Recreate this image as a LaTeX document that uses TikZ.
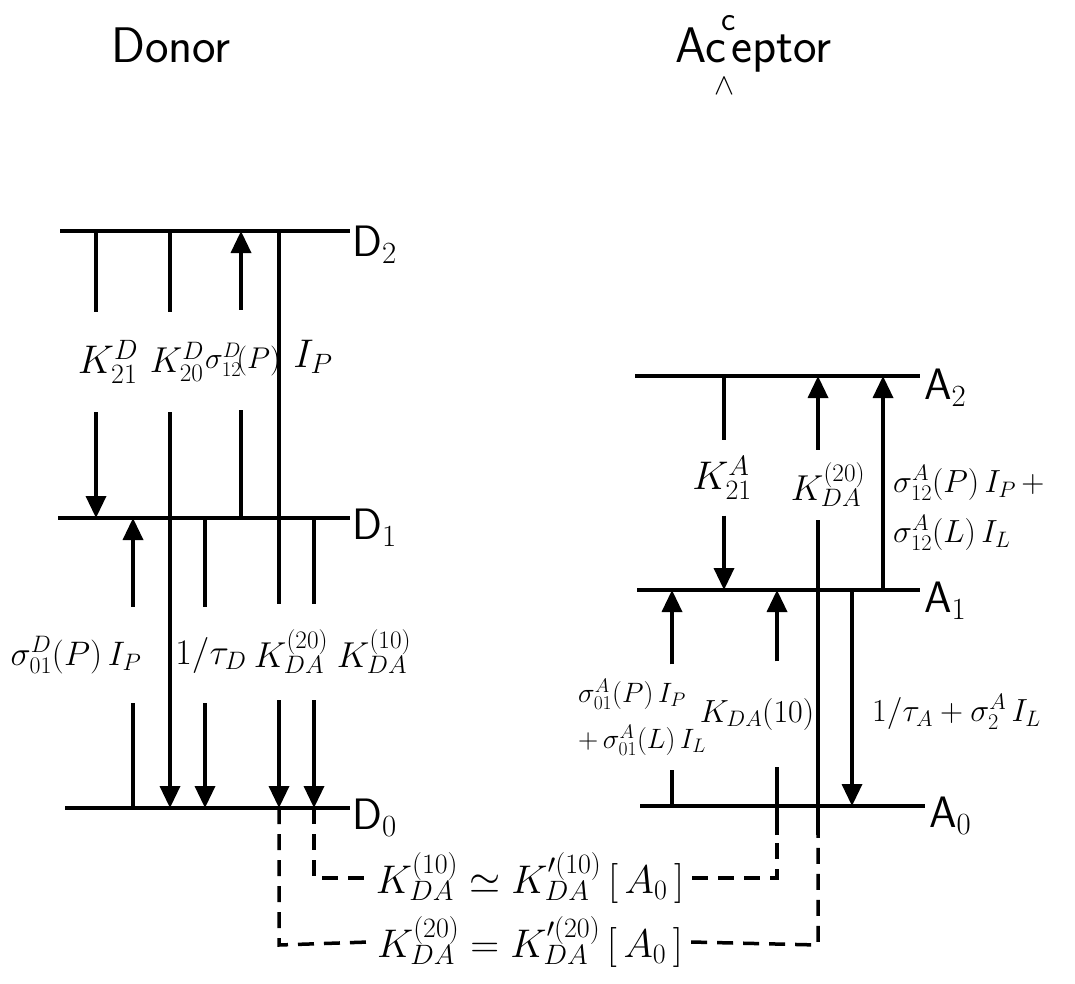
\RequirePackage{fix-cm}
\documentclass[tikz,border=0pt]{standalone}
\usetikzlibrary{arrows.meta}
\begin{document}
\begin{tikzpicture}[x=1pt,y=-1pt,
  lvl/.style={line width=3.5pt},
  tr/.style={line width=3.5pt},
  arr/.style={line width=3.5pt,-{Triangle[width=20pt,length=22pt]}},
  dsh/.style={line width=3.5pt,dash pattern=on 16pt off 10pt},
  lab/.style={font=\fontsize{40}{48}\selectfont,inner sep=0pt},
  lab2/.style={font=\fontsize{32}{50}\selectfont,inner sep=0pt,align=left},
  lvlab/.style={font=\fontsize{44}{50}\selectfont,anchor=west,inner sep=2pt},
  ttl/.style={font=\sffamily\fontsize{50}{60}\selectfont,inner sep=0pt}]
\useasboundingbox (0,0) rectangle (1075,984);

% titles
\node[ttl,anchor=base] (tD) at (171,63) {Donor};
\node[ttl,anchor=base east] (tAc) at (727,63) {Ac};
\node[ttl,anchor=base west] (tAe) at (731,63) {eptor};
\node[font=\sffamily\fontsize{34}{40}\selectfont,inner sep=0pt] (tIns) at (729,23) {c};
\node[font=\fontsize{30}{30}\selectfont,inner sep=0pt] (tCaret) at (724,86) {$\wedge$};

% donor levels
\coordinate (D2l) at (60,231); \coordinate (D2r) at (350,231);
\coordinate (D1l) at (58,518); \coordinate (D1r) at (350,518);
\coordinate (D0l) at (65,808); \coordinate (D0r) at (350,808);
\draw[lvl] (D2l) -- (D2r);
\draw[lvl] (D1l) -- (D1r);
\draw[lvl] (D0l) -- (D0r);
\node[lvlab] (D2) at (350,245) {$\mathsf{D}_2$};
\node[lvlab] (D1) at (350,528) {$\mathsf{D}_1$};
\node[lvlab] (D0) at (350,818) {$\mathsf{D}_0$};

% acceptor levels
\coordinate (A2l) at (635,376); \coordinate (A2r) at (920,376);
\coordinate (A1l) at (637,590); \coordinate (A1r) at (920,590);
\coordinate (A0l) at (640,806); \coordinate (A0r) at (925,806);
\draw[lvl] (A2l) -- (A2r);
\draw[lvl] (A1l) -- (A1r);
\draw[lvl] (A0l) -- (A0r);
\node[lvlab] (A2) at (922,388) {$\mathsf{A}_2$};
\node[lvlab] (A1) at (922,601) {$\mathsf{A}_1$};
\node[lvlab] (A0) at (927,816) {$\mathsf{A}_0$};

% donor upper transitions
\node[lab,minimum height=100pt] (k21D) at (108,362) {$K^{D}_{21}$};
\node[lab,minimum height=100pt,font=\fontsize{36}{44}\selectfont] (k20D) at (177,362) {$K^{D}_{20}$};
\node[lab,minimum height=100pt,font=\fontsize{30}{36}\selectfont] (s12D) at (243,360) {$\sigma^{D}_{12}\!(P)$};
\node[lab] (IpD) at (313,357) {$I_P$};

\coordinate (p21t) at (96,231); \coordinate (p21b) at (96,518);
\draw[tr] (p21t) -- (p21t |- k21D.north);
\draw[arr] (p21t |- k21D.south) -- (p21b);

\coordinate (p20t) at (170,231); \coordinate (p20b) at (170,808);
\draw[tr] (p20t) -- (p20t |- k20D.north);
\draw[arr] (p20t |- k20D.south) -- (p20b);

\coordinate (p12b) at (241,518); \coordinate (p12t) at (241,231);
\draw[tr] (p12b) -- (p12b |- s12D.south);
\draw[arr] (p12b |- s12D.north) -- (p12t);

% donor lower transitions
\node[lab,minimum height=96pt,font=\fontsize{34}{40}\selectfont] (s01D) at (76,655) {$\sigma^{D}_{01}(P)\,I_P$};
\node[lab,minimum height=96pt,font=\fontsize{36}{40}\selectfont] (tauD) at (211,655) {$1/\tau_D$};
\node[lab,minimum height=96pt,font=\fontsize{36}{40}\selectfont] (kDA20D) at (291,652) {$K^{(20)}_{DA}$};
\node[lab,minimum height=96pt,font=\fontsize{36}{40}\selectfont] (kDA10D) at (374,652) {$K^{(10)}_{DA}$};

\coordinate (p01b) at (133,808); \coordinate (p01t) at (133,518);
\draw[tr] (p01b) -- (p01b |- s01D.south);
\draw[arr] (p01b |- s01D.north) -- (p01t);

\coordinate (ptDt) at (205,518); \coordinate (ptDb) at (205,808);
\draw[tr] (ptDt) -- (ptDt |- tauD.north);
\draw[arr] (ptDt |- tauD.south) -- (ptDb);

\coordinate (pDA20t) at (279,231); \coordinate (pDA20b) at (279,808);
\draw[tr] (pDA20t) -- (pDA20t |- kDA20D.north);
\draw[arr] (pDA20t |- kDA20D.south) -- (pDA20b);

\coordinate (p10t) at (314,518); \coordinate (p10b) at (314,808);
\draw[tr] (p10t) -- (p10t |- kDA10D.north);
\draw[arr] (p10t |- kDA10D.south) -- (p10b);

% acceptor upper transitions
\node[lab,minimum height=75pt] (k21A) at (722,478) {$K^{A}_{21}$};
\node[lab,minimum height=70pt,font=\fontsize{36}{40}\selectfont] (kDA20A) at (828,485) {$K^{(20)}_{DA}$};
\node[lab2,anchor=west] (s12A) at (893,508) {$\sigma^{A}_{12}(P)\,I_P\,+$\\$\sigma^{A}_{12}(L)\,I_L$};

\coordinate (q21t) at (724,376); \coordinate (q21b) at (724,590);
\draw[tr] (q21t) -- (q21t |- k21A.north);
\draw[arr] (q21t |- k21A.south) -- (q21b);

\coordinate (q20t) at (818,376); \coordinate (q20b) at (818,835);
\draw[tr] (q20b) -- (q20b |- kDA20A.south);
\draw[arr] (q20b |- kDA20A.north) -- (q20t);

\coordinate (q12b) at (883,590); \coordinate (q12t) at (883,376);
\draw[arr] (q12b) -- (q12t);

% acceptor lower transitions
\node[lab2,minimum height=105pt,font=\fontsize{28}{46}\selectfont] (s01A) at (642,717) {$\sigma^{A}_{01}(P)\,I_P$\\$+\,\sigma^{A}_{01}(L)\,I_L$};
\node[lab,minimum height=105pt,font=\fontsize{32}{40}\selectfont] (kDA10A) at (757,714) {$K_{DA}(10)$};
\node[lab2,anchor=west] (tauA) at (872,712) {$1/\tau_A+\sigma^{A}_{2}\,I_L$};

\coordinate (q01b) at (672,806); \coordinate (q01t) at (672,590);
\draw[tr] (q01b) -- (q01b |- s01A.south);
\draw[arr] (q01b |- s01A.north) -- (q01t);

\coordinate (q10b) at (777,835); \coordinate (q10t) at (777,590);
\draw[tr] (q10b) -- (q10b |- kDA10A.south);
\draw[arr] (q10b |- kDA10A.north) -- (q10t);

\coordinate (qtAt) at (852,590); \coordinate (qtAb) at (852,806);
\draw[arr] (qtAt) -- (qtAb);

% bottom relations
\node[lab,inner sep=8pt] (eq10) at (530,878) {$K^{(10)}_{DA}\simeq K'^{(10)}_{DA}\,[\,A_0\,]$};
\node[lab,inner sep=8pt] (eq20) at (530,942) {$K^{(20)}_{DA}= K'^{(20)}_{DA}\,[\,A_0\,]$};

\coordinate (c10a) at (314,878); \coordinate (c10b) at (777,878);
\draw[dsh] (p10b) -- (c10a) -- (eq10.west);
\draw[dsh] (eq10.east) -- (c10b) -- (q10b);
\coordinate (c20a) at (279,945); \coordinate (c20b) at (818,945);
\draw[dsh] (pDA20b) -- (c20a) -- (eq20.west);
\draw[dsh] (eq20.east) -- (c20b) -- (q20b);
\end{tikzpicture}
\end{document}
